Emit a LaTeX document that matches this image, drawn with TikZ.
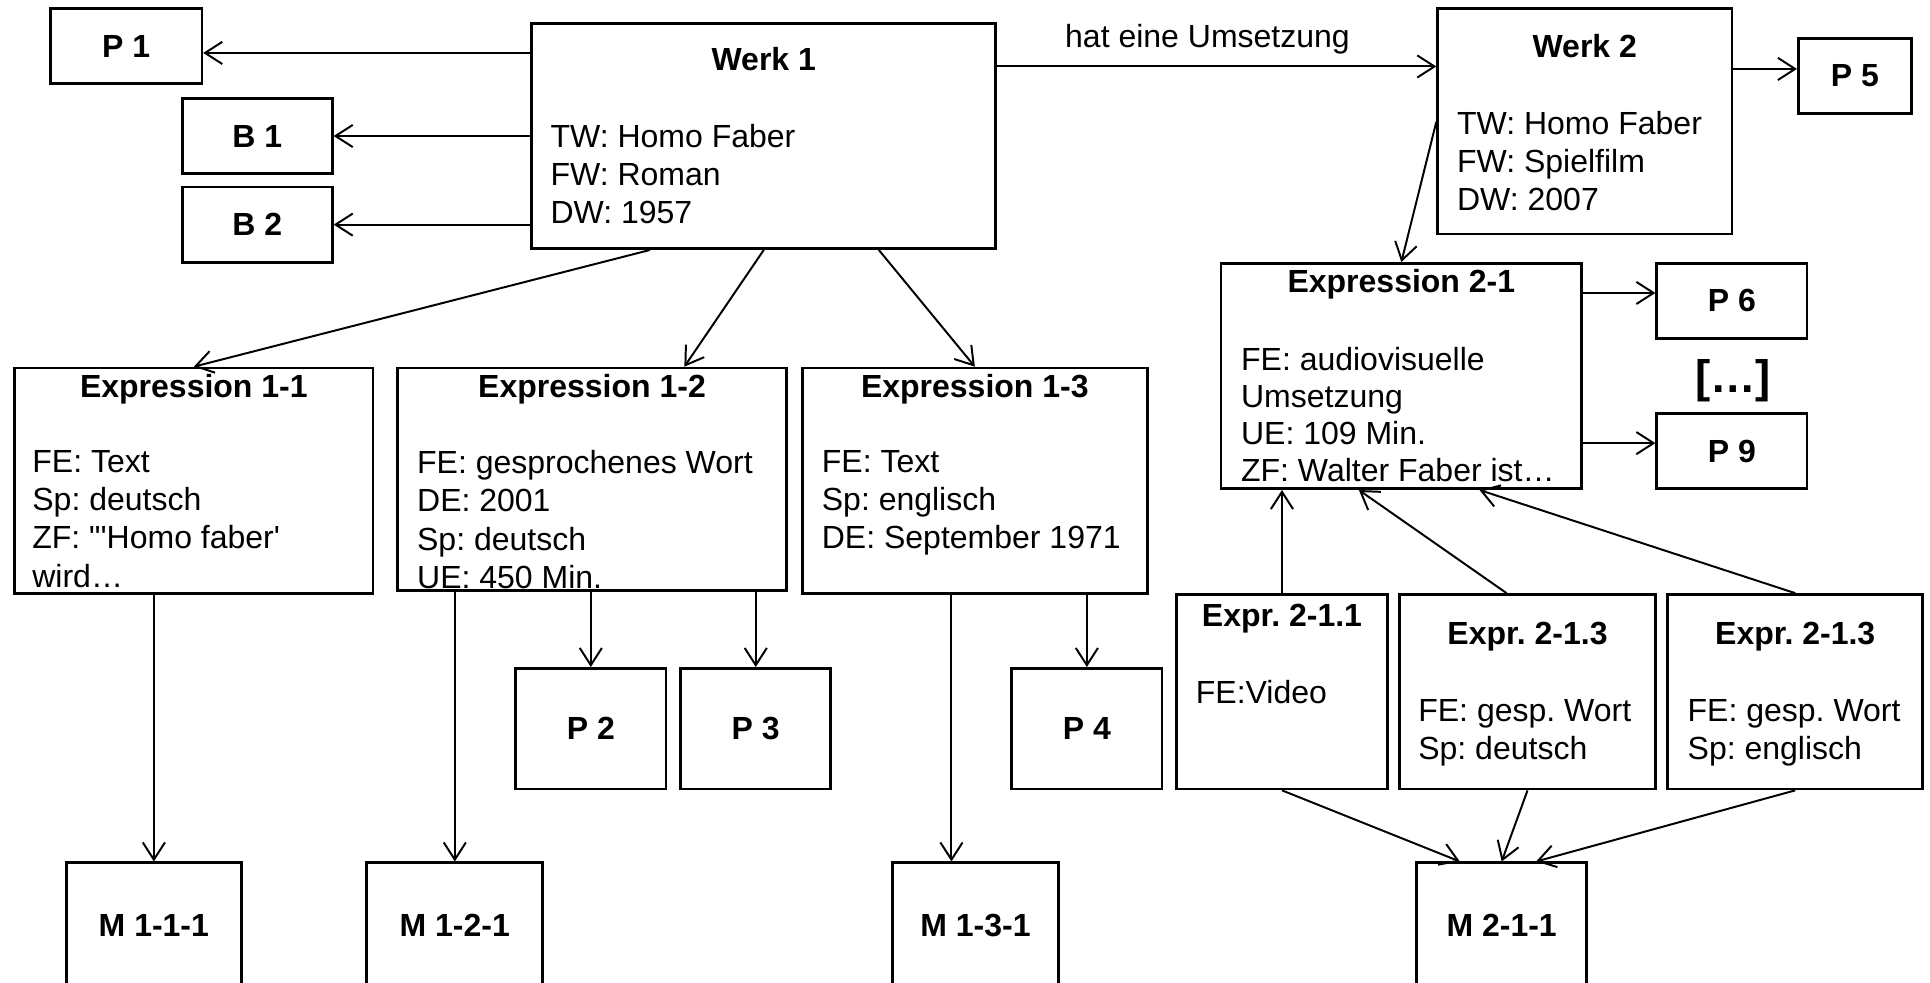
\documentclass[tikz,border=0pt]{standalone}
\usepackage{fontspec}
\setmainfont{Liberation Sans}
\usetikzlibrary{arrows.meta, positioning, fit}
\newcommand{\frbrfont}{\fontsize{13}{15.5}\selectfont\frenchspacing}
\tikzstyle{box} = [rectangle, draw=black, line width=1.1pt, inner sep=0pt, font=\frbrfont\bfseries]
\tikzstyle{head} = [anchor=north, inner sep=0pt, font=\frbrfont\bfseries]
\tikzstyle{body} = [anchor=north west, inner sep=0pt, align=left, font=\frbrfont]
\tikzstyle{arrow} = [line width=0.8pt, -{Straight Barb[length=7pt,width=9pt]}]

\begin{document}
\begin{tikzpicture}[x=0.5pt, y=-0.5pt]
\useasboundingbox (0,0) rectangle (1568,798);

% Werk 1
\node (werk1) [box, fit={(432,19) (809,202)}] {};
\node (werk1-t) [head] at ([yshift=-10.25pt]werk1.north) {Werk 1};
\node (werk1-b) [body] at ([xshift=8pt, yshift=-41.3pt]werk1.north west) {TW: Homo Faber\\FW: Roman\\DW: 1957};

% Personen und Bezuege
\node (p1) [box, minimum width=61.5pt, minimum height=30.5pt] at (102.5,37.5) {P 1};
\node (b1) [box, minimum width=61pt, minimum height=30.5pt] at (209,110.5) {B 1};
\node (b2) [box, minimum width=61pt, minimum height=30.5pt] at (209,182.5) {B 2};

% Werk 2
\node (werk2) [box, fit={(1168,7) (1407,190)}] {};
\node (werk2-t) [head] at ([yshift=-10.9pt]werk2.north) {Werk 2};
\node (werk2-b) [body] at ([xshift=8.25pt, yshift=-42pt]werk2.north west) {TW: Homo Faber\\FW: Spielfilm\\DW: 2007};
\node (p5) [box, minimum width=46pt, minimum height=30.5pt] at (1507,61.5) {P 5};

% Expressionen zu Werk 1
\node (expr11) [box, fit={(12,299) (303,482)}] {};
\node (expr11-t) [head] at ([yshift=-2.85pt]expr11.north) {Expression 1-1};
\node (expr11-b) [body] at ([xshift=7.5pt, yshift=-33.9pt]expr11.north west) {FE: Text\\Sp: deutsch\\ZF: \textquotedbl\textquotesingle Homo faber\textquotesingle\\wird…};

\node (expr12) [box, fit={(323,299) (639,480)}] {};
\node (expr12-t) [head] at ([yshift=-2.85pt]expr12.north) {Expression 1-2};
\node (expr12-b) [body] at ([xshift=8.3pt, yshift=-33.9pt]expr12.north west) {FE: gesprochenes Wort\\DE: 2001\\Sp: deutsch\\UE: 450 Min.};

\node (expr13) [box, fit={(652,299) (932,482)}] {};
\node (expr13-t) [head] at ([yshift=-2.85pt]expr13.north) {Expression 1-3};
\node (expr13-b) [body] at ([xshift=8.2pt, yshift=-33.9pt]expr13.north west) {FE: Text\\Sp: englisch\\DE: September 1971};

\node (p2) [box, minimum width=61pt, minimum height=49pt] at (480,592) {P 2};
\node (p3) [box, minimum width=61pt, minimum height=49pt] at (614,592) {P 3};
\node (p4) [box, minimum width=61pt, minimum height=49pt] at (883,592) {P 4};

% Manifestationen
\node (m111) [box, minimum width=71pt, minimum height=50.5pt] at (125,751.5) {M 1-1-1};
\node (m121) [box, minimum width=71.5pt, minimum height=50.5pt] at (369.5,751.5) {M 1-2-1};
\node (m131) [box, minimum width=67.5pt, minimum height=50.5pt] at (792.5,751.5) {M 1-3-1};
\node (m211) [box, minimum width=69pt, minimum height=50.5pt] at (1220,751.5) {M 2-1-1};

% Expression zu Werk 2
\node (expr21) [box, fit={(992,214) (1285,397)}] {};
\node (expr21-t) [head] at ([yshift=-2.75pt]expr21.north) {Expression 2-1};
\node (expr21-b) [body, font=\fontsize{13}{15}\selectfont\frenchspacing] at ([xshift=8.5pt, yshift=-34.6pt]expr21.north west) {FE: audiovisuelle\\Umsetzung\\UE: 109 Min.\\ZF: Walter Faber ist…};

\node (p6) [box, minimum width=61pt, minimum height=30.5pt] at (1407,244.5) {P 6};
\node (dots) [inner sep=0pt, font=\fontsize{18.5}{22}\selectfont\bfseries] at (1408,309) {[…]};
\node (p9) [box, minimum width=61pt, minimum height=30.5pt] at (1407,366.5) {P 9};

\node (expr211) [box, fit={(956,483) (1127,641)}] {};
\node (expr211-t) [head] at ([yshift=-4.15pt]expr211.north) {Expr. 2-1.1};
\node (expr211-b) [body] at ([xshift=8.15pt, yshift=-35.1pt]expr211.north west) {FE:Video};

\node (expr213a) [box, fit={(1137,483) (1345,641)}] {};
\node (expr213a-t) [head] at ([yshift=-11.65pt]expr213a.north) {Expr. 2-1.3};
\node (expr213a-b) [body] at ([xshift=8pt, yshift=-43.1pt]expr213a.north west) {FE: gesp. Wort\\Sp: deutsch};

\node (expr213b) [box, fit={(1355,483) (1562,641)}] {};
\node (expr213b-t) [head] at ([yshift=-11.65pt]expr213b.north) {Expr. 2-1.3};
\node (expr213b-b) [body] at ([xshift=8.4pt, yshift=-43.1pt]expr213b.north west) {FE: gesp. Wort\\Sp: englisch};

% Arrows
\draw [arrow] (werk1.west |- 0,43) -- (p1.east |- 0,43);
\draw [arrow] (werk1.west |- b1.east) -- (b1.east);
\draw [arrow] (werk1.west |- b2.east) -- (b2.east);
\draw [arrow] (werk1.east |- 0,54) -- (werk2.west |- 0,54)
  node (umsetzung) [midway, above=4.7pt, xshift=-3.75pt, inner sep=0pt, font=\frbrfont] {hat eine Umsetzung};
\draw [arrow] (werk2.east |- 0,56) -- (p5.west |- 0,56);
\draw [arrow] (werk2.west |- 0,99) -- (expr21.north);

\draw [arrow] (werk1.south -| 528,0) -- (expr11.north);
\draw [arrow] (werk1.south) -- (expr12.north -| 556,0);
\draw [arrow] (werk1.south -| 714,0) -- (expr13.north);

\draw [arrow] (expr12.south -| p2.north) -- (p2.north);
\draw [arrow] (expr12.south -| p3.north) -- (p3.north);
\draw [arrow] (expr13.south -| p4.north) -- (p4.north);

\draw [arrow] (expr11.south -| m111.north) -- (m111.north);
\draw [arrow] (expr12.south -| m121.north) -- (m121.north);
\draw [arrow] (expr13.south -| 773,0) -- (m131.north -| 773,0);

\draw [arrow] (expr21.east |- 0,238) -- (p6.west |- 0,238);
\draw [arrow] (expr21.east |- 0,360) -- (p9.west |- 0,360);

\draw [arrow] (expr211.north) -- (expr21.south -| expr211.north);
\draw [arrow] (expr213a.north -| 1224,0) -- (expr21.south -| 1104,0);
\draw [arrow] (expr213b.north) -- (expr21.south -| 1202,0);

\draw [arrow] (expr211.south) -- (m211.north -| 1186,0);
\draw [arrow] (expr213a.south) -- (m211.north);
\draw [arrow] (expr213b.south) -- (m211.north -| 1248,0);

\end{tikzpicture}
\end{document}
